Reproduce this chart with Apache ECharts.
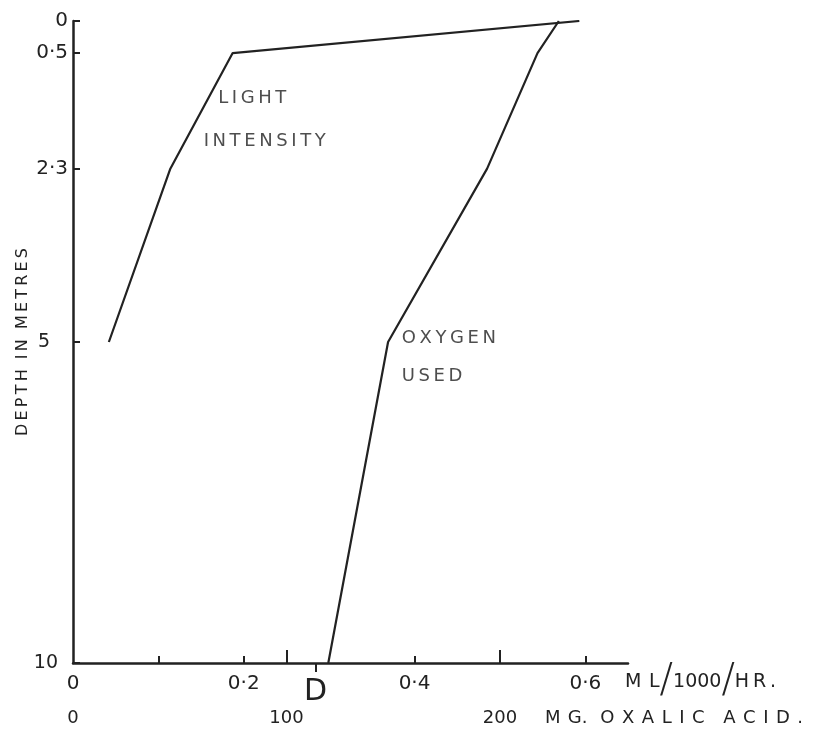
<!DOCTYPE html>
<html>
<head>
<meta charset="utf-8">
<script src="https://cdn.jsdelivr.net/npm/echarts@6/dist/echarts.min.js"></script>
<style>
html,body{margin:0;padding:0;background:#fff;}
#chart{width:820px;height:731px;}
</style>
</head>
<body>
<div id="chart"></div>
<script>
// Depths (metres) and values (ml O2 /1000/hr scale)
const lightDepths = [0, 0.5, 2.3, 5];
const lightValues = [0.593, 0.187, 0.114, 0.042];
const oxygenDepths = [0, 0.5, 2.3, 5, 10];
const oxygenValues = [0.569, 0.544, 0.485, 0.369, 0.299];

const depthTicks = [0, 0.5, 2.3, 5, 10];
const mlTicks = [0.1, 0.2, 0.4, 0.6];
const mlLabels = [0, 0.2, 0.4, 0.6];
const mgTicks = [100, 200];
const mgLabels = [0, 100, 200];
const dMarkValue = [0.284];

const T = '\u2009';
const H = '\u200A';
const spaced = (s, sep, wsep) => s.split(' ').map(w => w.split('').join(sep || T)).join(wsep || ' ');
const annotations = [
  {name: spaced('LIGHT'), value: [0.170, 1.2]},
  {name: spaced('INTENSITY'), value: [0.153, 1.88]},
  {name: spaced('OXYGEN'), value: [0.385, 4.94]},
  {name: spaced('USED'), value: [0.385, 5.53]}
];

const FONT = 'DejaVu Sans';
const INK = '#222';
const TXT = '#222';
const dot = v => String(v).replace('.', '\u00B7');

const mgName = 'M' + T + T + 'G.' + T + ' ' + T + spaced('OXALIC', ' ' + H) + '  ' + T + T + spaced('ACID.', ' ' + H);

const chart = echarts.init(document.getElementById('chart'));
chart.setOption({
  animation: false,
  backgroundColor: '#fff',
  textStyle: {fontFamily: FONT},
  grid: {left: 73, right: 192, top: 21, bottom: 68, containLabel: false, outerBoundsMode: 'none'},
  xAxis: [
    {
      type: 'value', position: 'bottom', min: 0, max: 0.65,
      axisLine: {onZero: false, lineStyle: {color: INK, width: 2.5}},
      axisTick: {show: true, inside: true, length: 7, customValues: mlTicks, lineStyle: {color: INK, width: 2}},
      axisLabel: {customValues: mlLabels, formatter: v => v === 0 ? '0' : dot(v.toFixed(1)),
        fontSize: 20, color: TXT, margin: 11, fontFamily: FONT},
      splitLine: {show: false},
      name: '{a|M' + T + T + 'L}{s|/}{a|1000}{s|/}{a|H' + T + 'R' + T + '.}',
      nameLocation: 'end', nameGap: -3, nameMoveOverlap: false,
      nameTextStyle: {padding: [38, 0, 0, 0], rich: {
        a: {fontSize: 19, color: TXT, fontFamily: FONT},
        s: {fontSize: 40, color: INK, fontFamily: FONT, fontWeight: 'lighter'}
      }}
    },
    {
      type: 'value', position: 'bottom', min: 0, max: 260,
      axisLine: {show: false, onZero: false},
      axisTick: {show: true, inside: true, length: 13, customValues: mgTicks, lineStyle: {color: INK, width: 2}},
      axisLabel: {customValues: mgLabels, fontSize: 18, color: TXT, margin: 46, fontFamily: FONT},
      splitLine: {show: false},
      name: '{a|' + mgName + '}',
      nameLocation: 'end', nameGap: -83, nameMoveOverlap: false,
      nameTextStyle: {padding: [110, 0, 0, 0], rich: {
        a: {fontSize: 18, color: TXT, fontFamily: FONT}
      }}
    },
    {
      type: 'value', position: 'bottom', min: 0, max: 0.65,
      axisLine: {show: false, onZero: false},
      axisTick: {show: true, inside: false, length: 9, customValues: dMarkValue, lineStyle: {color: INK, width: 2}},
      axisLabel: {customValues: dMarkValue, formatter: () => 'D', fontSize: 30, color: TXT, margin: 14, fontFamily: FONT},
      splitLine: {show: false}
    }
  ],
  yAxis: {
    type: 'value', min: 0, max: 10, inverse: true,
    axisLine: {onZero: false, lineStyle: {color: INK, width: 2.5}},
    axisTick: {show: true, inside: true, length: 7, customValues: depthTicks, lineStyle: {color: INK, width: 2}},
    axisLabel: {
      customValues: depthTicks,
      formatter: v => v === 5 ? '{f|5}' : v === 10 ? '{t|10}' : dot(v),
      fontSize: 20, color: TXT, margin: 5, fontFamily: FONT,
      rich: {
        f: {fontSize: 19, color: TXT, padding: [0, 18, 0, 0], fontFamily: FONT},
        t: {fontSize: 19, color: TXT, padding: [0, 10, 0, 0], fontFamily: FONT}
      }
    },
    splitLine: {show: false},
    name: spaced('DEPTH') + '  ' + spaced('IN') + '  ' + spaced('METRES'),
    nameLocation: 'middle', nameGap: 42, nameMoveOverlap: false,
    nameTextStyle: {fontSize: 16, color: TXT, fontFamily: FONT}
  },
  series: [
    {
      name: 'Light intensity', type: 'line', xAxisIndex: 0,
      data: lightDepths.map((d, i) => [lightValues[i], d]),
      symbol: 'none', lineStyle: {color: INK, width: 2.2}
    },
    {
      name: 'Oxygen used', type: 'line', xAxisIndex: 0,
      data: oxygenDepths.map((d, i) => [oxygenValues[i], d]),
      symbol: 'none', lineStyle: {color: INK, width: 2.2}
    },
    {
      name: 'labels', type: 'scatter', xAxisIndex: 0,
      symbolSize: 0,
      data: annotations,
      label: {show: true, position: 'right', distance: 0, formatter: p => p.name,
        fontSize: 18, color: TXT, fontFamily: FONT},
      silent: true
    }
  ]
});
</script>
</body>
</html>
